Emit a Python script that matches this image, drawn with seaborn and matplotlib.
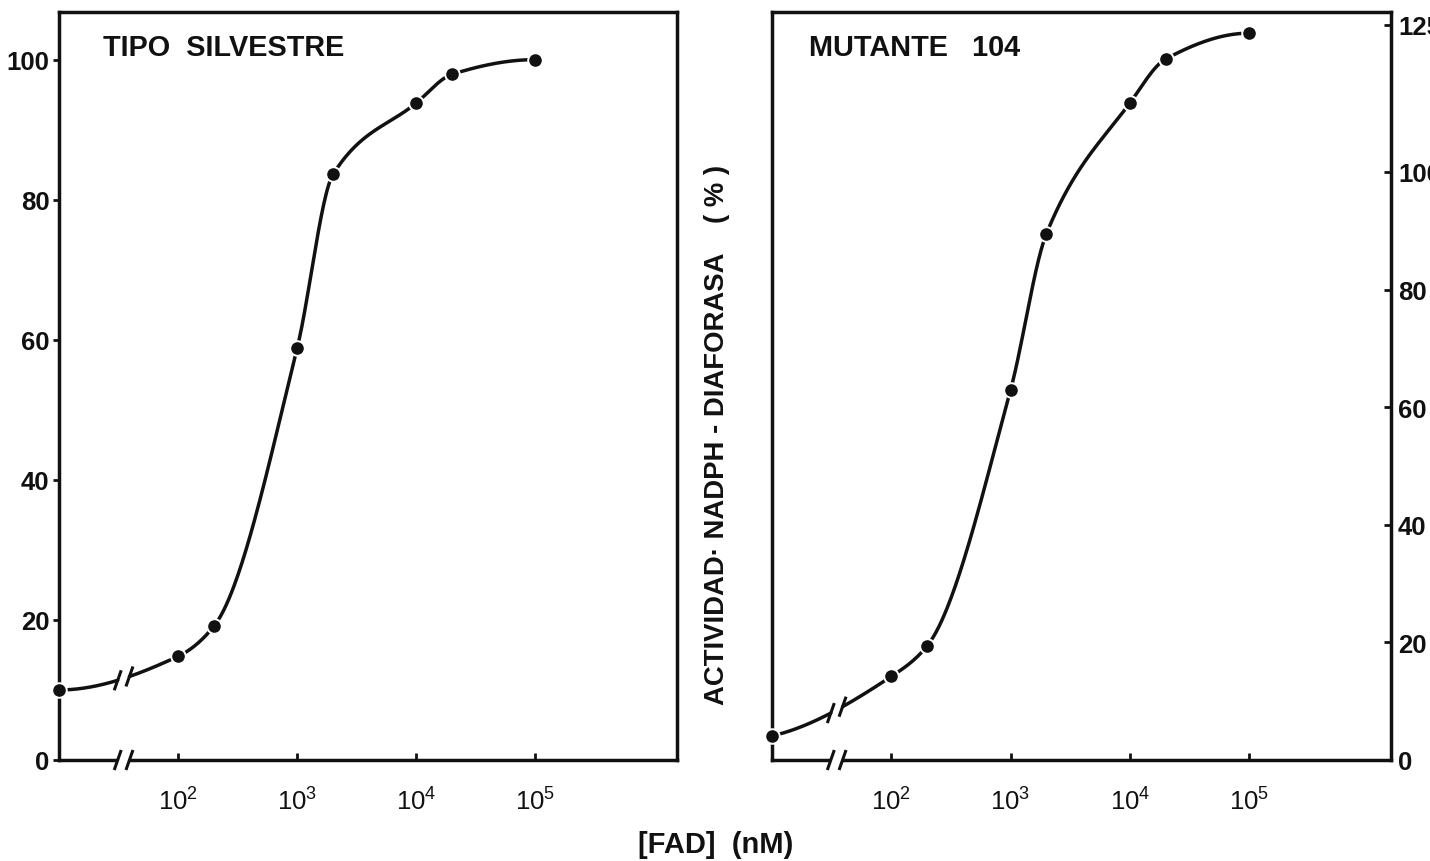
import numpy as np
import matplotlib
matplotlib.use("Agg")
import matplotlib.pyplot as plt
import seaborn as sns
import pandas as pd

# ---------------- data ----------------
fad_nM = [0, 100, 200, 1000, 2000, 10000, 20000, 100000]
silvestre = [10.0, 14.8, 19.1, 58.8, 83.6, 93.8, 97.9, 100.0]
mutante = [4.1, 14.2, 19.4, 62.9, 89.5, 111.7, 119.2, 123.6]
x_ticks = [1e2, 1e3, 1e4, 1e5]
x_tick_labels = [r"$10^{2}$", r"$10^{3}$", r"$10^{4}$", r"$10^{5}$"]
left_yticks = [0, 20, 40, 60, 80, 100]
right_yticks = [0, 20, 40, 60, 80, 100, 125]
panel_titles = ["TIPO  SILVESTRE", "MUTANTE   104"]
y_label = "ACTIVIDAD· NADPH - DIAFORASA    ( % )"
x_label = "[FAD]  (nM)"

# ---------------- style ----------------
sns.set_theme(style="white")
plt.rcParams['font.family'] = ['Liberation Sans', 'DejaVu Sans']
plt.rcParams['mathtext.default'] = 'regular'
INK = "#111111"
LW = 2.5
TICK_FS = 18.5

W, H = 1430, 862
fig = plt.figure(figsize=(W / 100, H / 100), dpi=100)
fig.patch.set_facecolor("white")
axL = fig.add_axes([59 / W, 101 / H, 618 / W, 748 / H])
axR = fig.add_axes([772 / W, 101 / H, 619 / W, 748 / H])


def pchip(x, y, xn):
    x = np.asarray(x, float)
    y = np.asarray(y, float)
    h = np.diff(x)
    d = np.diff(y) / h
    n = len(x)
    m = np.zeros(n)
    for k in range(1, n - 1):
        if d[k - 1] * d[k] <= 0:
            m[k] = 0.0
        else:
            w1 = 2 * h[k] + h[k - 1]
            w2 = h[k] + 2 * h[k - 1]
            m[k] = (w1 + w2) / (w1 / d[k - 1] + w2 / d[k])

    def end(h0, h1, d0, d1):
        v = ((2 * h0 + h1) * d0 - h0 * d1) / (h0 + h1)
        if np.sign(v) != np.sign(d0):
            v = 0.0
        elif np.sign(d0) != np.sign(d1) and abs(v) > abs(3 * d0):
            v = 3 * d0
        return v

    m[0] = end(h[0], h[1], d[0], d[1])
    m[-1] = end(h[-1], h[-2], d[-1], d[-2])
    idx = np.clip(np.searchsorted(x, xn) - 1, 0, n - 2)
    t = (xn - x[idx]) / h[idx]
    h00 = 2 * t**3 - 3 * t**2 + 1
    h10 = t**3 - 2 * t**2 + t
    h01 = -2 * t**3 + 3 * t**2
    h11 = t**3 - t**2
    return h00 * y[idx] + h10 * h[idx] * m[idx] + h01 * y[idx + 1] + h11 * h[idx] * m[idx + 1]


def draw_panel(ax, values, ymax, yticks, title, title_x, side):
    df = pd.DataFrame({"fad": fad_nM, "act": values})
    ax.set_xscale("symlog", linthresh=100, linscale=0.9)
    xmax = 1.55e6
    ax.set_xlim(0, xmax)
    ax.set_ylim(0, ymax)

    tr = ax.xaxis.get_transform()
    inv = tr.inverted()
    tx = tr.transform(np.asarray(fad_nM, float))
    txmax = tr.transform(np.array([xmax]))[0]

    b1, b2 = 0.095, 0.114  # break positions (axes fraction)
    tb1, tb2 = b1 * txmax, b2 * txmax

    # smooth curve in two pieces around the break
    for lo, hi in [(tx[0], tb1), (tb2, tx[-1])]:
        tgrid = np.linspace(lo, hi, 300)
        yc = pchip(tx, values, tgrid)
        xc = inv.transform(tgrid)
        sns.lineplot(x=xc, y=yc, ax=ax, color=INK, lw=LW, sort=False,
                     estimator=None, zorder=3)

    # slashes on curve ends
    for b, tb in [(b1, tb1), (b2, tb2)]:
        yf = pchip(tx, values, np.array([tb]))[0] / ymax
        dx, dy = 3.5 / 618, 10 / 748
        ax.plot([b - dx, b + dx], [yf - dy, yf + dy], transform=ax.transAxes,
                color=INK, lw=2.2, solid_capstyle="butt", zorder=4)

    # markers
    sns.scatterplot(data=df, x="fad", y="act", ax=ax, s=110, color=INK,
                    edgecolor="white", linewidth=1.4, zorder=5, clip_on=False)

    # axis frame
    for sp in ax.spines.values():
        sp.set_visible(True)
        sp.set_color(INK)
        sp.set_linewidth(LW)

    # axis break on x axis
    ax.plot([b1, b2], [0, 0], transform=ax.transAxes, color="white", lw=6,
            clip_on=False, zorder=6, solid_capstyle="butt")
    for b in (b1, b2):
        dx, dy = 3.5 / 618, 10 / 748
        ax.plot([b - dx, b + dx], [-dy, dy], transform=ax.transAxes,
                color=INK, lw=2.2, clip_on=False, zorder=7, solid_capstyle="butt")

    ax.set_xticks(x_ticks)
    ax.set_xticklabels(x_tick_labels, fontsize=TICK_FS, color=INK)
    ax.xaxis.set_minor_locator(matplotlib.ticker.NullLocator())
    ax.tick_params(axis="x", which="major", bottom=True, direction="in",
                   length=5, width=2, pad=20, colors=INK)
    ax.set_yticks(yticks)
    ax.set_yticklabels([str(v) for v in yticks], fontsize=TICK_FS, color=INK,
                       fontweight="bold")
    if side == "left":
        ax.tick_params(axis="y", left=True, right=False, direction="out",
                       length=4, width=2, pad=3, colors=INK)
    else:
        ax.yaxis.tick_right()
        ax.tick_params(axis="y", left=False, right=True, labelleft=False,
                       labelright=True, direction="in", length=5, width=2,
                       pad=5, colors=INK)
    ax.set_xlabel("")
    ax.set_ylabel("")
    ax.grid(False)
    ax.text(title_x, 0.953, title, transform=ax.transAxes, fontsize=20.8,
            color=INK, ha="left", va="center", fontweight="bold")


draw_panel(axL, silvestre, 106.8, left_yticks, panel_titles[0], 0.071, "left")
draw_panel(axR, mutante, 127.2, right_yticks, panel_titles[1], 0.060, "right")

fig.text(717 / W, 1 - 435 / H, y_label, rotation=90, fontsize=19.8,
         color=INK, ha="center", va="center", fontweight="bold")
fig.text(716 / W, 1 - 845 / H, x_label, fontsize=21, color=INK,
         ha="center", va="center", fontweight="bold")

fig.savefig("out.png", dpi=100, facecolor="white")
